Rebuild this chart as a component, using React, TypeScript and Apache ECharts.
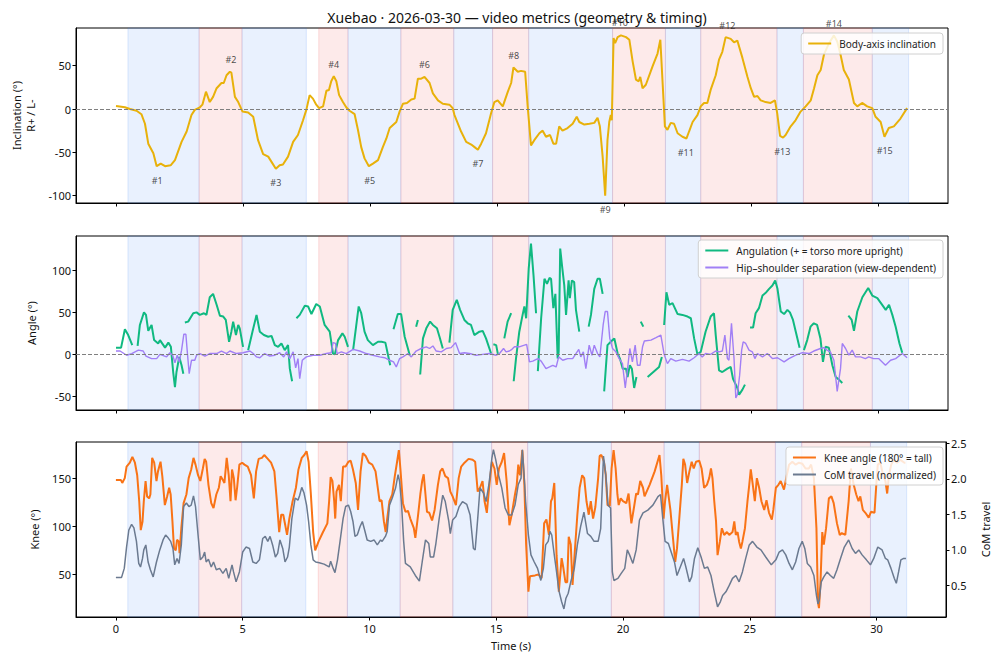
import React, { useEffect, useRef } from "react";
import * as echarts from "echarts";

const FONT = "'Noto Sans', 'Open Sans', sans-serif";

const titleText = "Xuebao · 2026-03-30 — video metrics (geometry & timing)";

const xTicks = [0, 5, 10, 15, 20, 25, 30];
const incTicks = [-100, -50, 0, 50];
const angTicks = [-50, 0, 50, 100];
const kneeTicks = [50, 100, 150];
const comTicks = [0.5, 1.0, 1.5, 2.0, 2.5];

const bandStart = [0.47, 3.27, 4.96, 7.98, 9.13, 11.21, 13.29, 14.82, 16.24, 19.54, 21.62, 23.01, 26.01, 27.05, 29.76];
const bandEnd = [3.27, 4.96, 7.49, 9.13, 11.21, 13.29, 14.82, 16.24, 19.54, 21.62, 23.01, 26.01, 27.05, 29.76, 31.19];
const bandSide = ["L", "R", "L", "R", "L", "R", "L", "R", "L", "R", "L", "R", "L", "R", "L"];

const annLabel = ["#1", "#2", "#3", "#4", "#5", "#6", "#7", "#8", "#9", "#10", "#11", "#12", "#13", "#14", "#15"];
const annT = [1.62, 4.52, 6.29, 8.57, 9.98, 12.14, 14.24, 15.65, 19.25, 19.83, 22.42, 24.06, 26.22, 28.25, 30.25];
const annV = [-66, 43, -69, 38, -66, 37, -47, 48, -100, 86, -34, 83, -33, 85, -32];

const inclination: [number, number][] = [
  [0, 3.5], [0.35, 2], [0.55, 0], [0.81, -2], [1.0, -6], [1.14, -17], [1.27, -40], [1.47, -51], [1.6, -66], [1.76, -63],
  [1.93, -66], [2.15, -65], [2.32, -59], [2.58, -38], [2.78, -26], [2.97, -7], [3.1, -1], [3.3, 2], [3.4, 5], [3.54, 20],
  [3.69, 8], [3.82, 14], [3.96, 24], [4.15, 30], [4.24, 30], [4.35, 39], [4.48, 43], [4.54, 42], [4.68, 14], [4.81, 8],
  [4.98, -3], [5.2, -4], [5.4, -9], [5.59, -36], [5.79, -52], [5.99, -55], [6.12, -61], [6.29, -69], [6.44, -65], [6.57, -64],
  [6.77, -55], [6.97, -38], [7.16, -30], [7.36, -13], [7.49, -1], [7.62, 16], [7.75, 12], [7.88, 5], [7.99, 1], [8.15, 3],
  [8.28, 21], [8.38, 22], [8.47, 32], [8.57, 38], [8.67, 32], [8.78, 16], [8.93, 8], [9.06, 2], [9.19, -2], [9.39, -6],
  [9.52, -24], [9.65, -44], [9.78, -57], [9.95, -66], [10.11, -63], [10.31, -59], [10.5, -44], [10.64, -34], [10.77, -22], [11.03, -15],
  [11.16, -3], [11.29, 6], [11.45, 7], [11.62, 11], [11.75, 12], [11.88, 35], [12.01, 35], [12.14, 37], [12.34, 30], [12.47, 18],
  [12.67, 10], [12.86, 6], [13.12, 5], [13.25, 1], [13.32, -7], [13.58, -26], [13.78, -38], [13.98, -41], [14.11, -44], [14.24, -47],
  [14.37, -40], [14.56, -28], [14.76, -5], [14.89, 8], [15.02, 10], [15.22, 3], [15.42, 20], [15.55, 30], [15.64, 48], [15.81, 43],
  [15.94, 44], [16.1, 43], [16.2, 3], [16.33, -42], [16.46, -36], [16.66, -28], [16.79, -25], [16.92, -32], [17.08, -30], [17.21, -40],
  [17.32, -40], [17.44, -20], [17.57, -25], [17.77, -22], [17.97, -17], [18.13, -9], [18.23, -15], [18.43, -18], [18.63, -17], [18.82, -16],
  [18.95, -10], [19.04, -20], [19.15, -55], [19.25, -100], [19.34, -36], [19.41, -15], [19.47, -7], [19.51, -13], [19.58, 82], [19.64, 76],
  [19.74, 83], [19.87, 85], [20.07, 83], [20.2, 80], [20.33, 55], [20.46, 34], [20.57, 32], [20.63, 37], [20.72, 24], [20.85, 28],
  [21.11, 49], [21.31, 64], [21.42, 80], [21.51, 30], [21.6, -20], [21.7, -24], [21.83, -16], [21.96, -17], [22.1, -28], [22.29, -32],
  [22.45, -34], [22.55, -26], [22.69, -15], [22.88, -7], [23.01, 3], [23.14, 7], [23.27, 7], [23.4, 22], [23.6, 39], [23.73, 57],
  [23.86, 66], [23.99, 83], [24.19, 81], [24.32, 77], [24.45, 79], [24.65, 59], [24.85, 37], [24.98, 24], [25.11, 14], [25.24, 15],
  [25.37, 10], [25.56, 8], [25.76, 7], [25.93, 10], [26.02, -5], [26.13, -31], [26.25, -33], [26.35, -30], [26.55, -20], [26.74, -13],
  [26.94, -3], [27.14, 3], [27.34, 10], [27.47, 24], [27.6, 39], [27.73, 45], [27.86, 63], [28.06, 76], [28.25, 85], [28.38, 78],
  [28.51, 63], [28.64, 45], [28.84, 34], [29.04, 7], [29.17, 3], [29.36, 7], [29.56, 3], [29.76, 1], [29.89, -9], [30.09, -15],
  [30.24, -32], [30.41, -22], [30.61, -20], [30.87, -11], [31.13, 1],
];

// null = gap in the tracked signal
const angulation: ([number, number] | null)[] = [
  [0, 8], [0.2, 8], [0.35, 30], [0.48, 23], [0.64, 11], null,
  [0.85, 10], [0.94, 35], [1.1, 50], [1.18, 47], [1.27, 28], [1.4, 35], [1.5, 17], [1.66, 13], [1.73, 17], [1.93, 8], [2.06, 14], [2.16, 9], [2.25, -21], [2.32, -39], [2.38, -21], [2.49, -3], [2.58, -13], [2.65, -23], null,
  [2.71, 38], [2.84, 39], [3.04, 49], [3.17, 50], [3.3, 47], [3.46, 49], [3.56, 47], [3.69, 68], [3.82, 72], [3.96, 59], [4.09, 46], [4.22, 45], [4.32, 41], [4.45, 15], [4.54, 27], [4.61, 39], [4.72, 23], [4.81, 35], [4.87, 31], [5.0, 9], null,
  [5.2, 5], [5.37, 27], [5.53, 47], [5.66, 27], [5.82, 23], [5.99, 21], [6.12, 22], [6.25, 11], [6.38, 9], [6.51, 13], [6.64, 5], [6.77, 11], [6.84, -17], [6.93, -32], null,
  [7.1, 43], [7.23, 47], [7.43, 58], [7.56, 57], [7.69, 48], [7.88, 60], [8.02, 57], [8.21, 35], [8.41, 27], [8.54, 1], [8.61, 0], [8.74, 17], [8.91, 25], [9.0, 21], [9.13, 9], null,
  [9.33, 5], [9.55, 57], [9.65, 49], [9.78, 27], [9.91, 17], [10.11, 11], [10.31, 15], [10.45, 15], [10.6, 14], [10.79, -13], null,
  [10.92, 30], [11.09, 48], [11.22, 48], [11.36, 21], [11.56, -1], null,
  [11.81, 33], [11.88, 41], null,
  [11.97, -24], [12.08, 19], [12.21, 31], [12.36, 39], [12.47, 35], [12.63, 31], [12.73, 21], [12.86, 7], null,
  [13.12, 14], [13.25, 53], [13.41, 65], [13.54, 53], [13.71, 41], [13.84, 37], [13.97, 35], [14.1, 23], [14.3, 27], [14.43, 28], [14.56, 19], [14.76, 1], null,
  [14.85, 12], [14.96, 11], [15.03, 0], null,
  [15.28, 19], [15.41, 39], [15.55, 49], null,
  [15.65, -32], [15.74, -5], [15.87, 27], [16.0, 47], [16.07, 57], [16.14, 43], [16.24, 102], [16.33, 132], [16.43, 94], [16.53, 49], null,
  [16.6, -20], [16.73, 43], [16.86, 90], [16.96, 84], [17.06, 91], [17.12, 90], [17.21, 55], [17.29, 72], [17.38, -5], [17.42, 3], [17.48, 126], [17.55, 106], [17.64, 82], [17.71, 47], [17.81, 88], [17.86, 67], [17.94, 88], [18.03, 86], [18.1, 53], [18.23, 27], null,
  [18.6, 33], [18.69, 47], [18.82, 78], [18.95, 90], [19.04, 90], [19.15, 72], null,
  [19.21, -44], [19.34, 11], [19.47, 15], [19.54, 17], [19.61, 19], [19.74, 1], [19.83, -5], [19.94, -17], [20.07, -17], [20.13, -27], [20.22, -13], [20.3, -17], [20.39, -40], [20.48, -27], null,
  [20.65, 39], [20.75, 33], null,
  [20.92, -27], [21.37, -15], [21.48, -3], null,
  [21.57, 35], [21.66, 74], [21.77, 59], [21.9, 61], [22.1, 48], [22.29, 47], [22.49, 45], [22.62, 43], [22.75, 19], [22.88, 0], [23.01, 3], [23.2, 27], [23.4, 45], [23.53, 49], [23.6, 23], [23.73, -19], [23.86, -21], [24.06, -17], [24.19, -15], [24.28, -29], [24.39, -36], [24.45, -40], [24.52, -48], [24.65, -42], [24.75, -36], null,
  [24.95, 32], [25.07, 32], [25.17, 49], [25.3, 55], [25.44, 70], [25.59, 74], [25.7, 78], [25.83, 82], [25.94, 88], [26.03, 78], [26.16, 51], [26.29, 48], [26.42, 53], [26.52, 50], [26.64, 41], [26.75, 27], [26.9, 8], null,
  [27.07, 5], [27.2, 17], [27.33, 33], [27.46, 37], [27.59, 35], [27.72, 19], [27.82, -9], [27.92, 9], [28.05, 8], [28.19, -13], [28.32, -27], [28.45, -30], [28.58, -34], null,
  [28.82, 46], [28.95, 41], [29.04, 28], [29.17, 51], [29.37, 68], [29.6, 79], [29.76, 70], [29.96, 67], [30.15, 59], [30.29, 53], [30.42, 59], [30.55, 47], [30.68, 33], [30.83, 13], [30.94, 2],
];

const hipShoulder: [number, number][] = [
  [0, 4], [0.16, 4], [0.42, -1], [0.62, 1], [0.88, 5], [1.07, 4], [1.18, -2], [1.4, -5], [1.6, -5], [1.73, 0], [1.99, -3], [2.12, 2], [2.23, -1], [2.32, -10], [2.41, -1], [2.49, -9], [2.58, 5], [2.67, 24], [2.75, 24], [2.8, 5],
  [2.88, -23], [2.97, -7], [3.1, -7], [3.17, -1], [3.3, 1], [3.5, -2], [3.69, 1], [3.96, 1], [4.15, 4], [4.35, 1], [4.48, 4], [4.74, 1], [5.0, 2], [5.27, 4], [5.4, 1], [5.53, -3], [5.66, -4], [5.85, 1], [6.05, -2], [6.25, -1],
  [6.44, 2], [6.6, -3], [6.71, 3], [6.84, -5], [6.97, 3], [7.07, -16], [7.16, -5], [7.23, -29], [7.33, -7], [7.49, -3], [7.75, -1], [8.02, -1], [8.28, 1], [8.47, 2], [8.54, 14], [8.64, 13], [8.7, 1], [8.87, 3], [9.06, 1], [9.33, 6],
  [9.59, 4], [9.85, 1], [10.11, -1], [10.37, -3], [10.57, -4], [10.77, -7], [10.92, -9], [11.03, -15], [11.16, -5], [11.29, -3], [11.49, 1], [11.62, -3], [11.81, 4], [12.01, 7], [12.21, 9], [12.34, 7], [12.47, 10], [12.6, 4], [12.8, 3], [13.0, 7],
  [13.19, 8], [13.36, 14], [13.52, 1], [13.71, 2], [13.91, 1], [14.17, -1], [14.43, 0], [14.69, 1], [14.96, -1], [15.09, 1], [15.25, 7], [15.35, 3], [15.48, 4], [15.58, 6], [15.68, 9], [15.87, 9], [16.07, 11], [16.16, 12], [16.27, -9], [16.4, -8],
  [16.6, -5], [16.73, -8], [16.92, -17], [17.06, -15], [17.19, -13], [17.32, -15], [17.42, -3], [17.58, -7], [17.77, -5], [17.97, -5], [18.1, 1], [18.21, 6], [18.29, -3], [18.39, 3], [18.49, -17], [18.62, 11], [18.73, -1], [18.82, 11], [18.95, 1], [19.04, -3],
  [19.17, 35], [19.25, 51], [19.34, 51], [19.43, 19], [19.54, 7], [19.67, 3], [19.8, -5], [19.93, -11], [20.04, -40], [20.13, -17], [20.22, 7], [20.32, -9], [20.43, 11], [20.52, -13], [20.62, -13], [20.72, 9], [20.79, 16], [21.05, 17], [21.25, 20], [21.44, 23],
  [21.57, 0], [21.7, -11], [21.83, -5], [22.03, -8], [22.29, -6], [22.55, -8], [22.75, -4], [22.94, 1], [23.07, -3], [23.2, 1], [23.4, 0], [23.6, 4], [23.73, 3], [23.86, 4], [23.96, 23], [24.06, -5], [24.12, -7], [24.22, 37], [24.32, -5], [24.39, -52],
  [24.45, -48], [24.54, -25], [24.62, 5], [24.68, 15], [24.78, 13], [24.91, 5], [25.04, 3], [25.14, -5], [25.24, 1], [25.44, -3], [25.63, 1], [25.83, -5], [26.03, -4], [26.29, -9], [26.48, -5], [26.75, -1], [27.01, 2], [27.27, 1], [27.46, 4], [27.72, 7],
  [27.85, 8], [27.98, 5], [28.11, 3], [28.25, -7], [28.38, -44], [28.51, -17], [28.58, 13], [28.71, 7], [28.84, -1], [28.97, 5], [29.1, -3], [29.3, -3], [29.49, -5], [29.62, -3], [29.81, -5], [30.01, -5], [30.28, -13], [30.48, -7], [30.68, -5], [30.94, 1],
  [31.13, -4],
];

const knee: [number, number][] = [
  [0, 148], [0.2, 148], [0.25, 145], [0.35, 150], [0.42, 162], [0.55, 166], [0.65, 172], [0.75, 166], [0.84, 153], [0.92, 126], [0.98, 96], [1.05, 105], [1.1, 126], [1.17, 147], [1.23, 131], [1.31, 129], [1.36, 133], [1.43, 171], [1.51, 166], [1.6, 147],
  [1.66, 157], [1.76, 167], [1.83, 152], [1.93, 122], [2.02, 131], [2.1, 140], [2.16, 133], [2.23, 105], [2.29, 77], [2.36, 75], [2.41, 86], [2.48, 84], [2.51, 72], [2.58, 98], [2.67, 124], [2.78, 133], [2.87, 150], [2.97, 159], [3.06, 171], [3.14, 164],
  [3.24, 153], [3.33, 147], [3.43, 160], [3.5, 170], [3.56, 167], [3.65, 143], [3.76, 124], [3.85, 119], [3.96, 133], [4.06, 140], [4.13, 152], [4.22, 148], [4.28, 145], [4.37, 171], [4.45, 153], [4.52, 126], [4.58, 159], [4.65, 150], [4.72, 127], [4.78, 140],
  [4.87, 164], [4.98, 166], [5.07, 164], [5.2, 162], [5.33, 153], [5.44, 129], [5.53, 157], [5.63, 170], [5.76, 171], [5.85, 174], [5.99, 170], [6.12, 166], [6.25, 157], [6.34, 129], [6.44, 94], [6.52, 112], [6.6, 112], [6.68, 101], [6.75, 91], [6.84, 108],
  [6.97, 126], [7.1, 140], [7.2, 159], [7.33, 171], [7.43, 174], [7.52, 178], [7.6, 167], [7.69, 133], [7.78, 94], [7.86, 75], [7.99, 84], [8.15, 93], [8.34, 103], [8.41, 126], [8.47, 151], [8.54, 147], [8.61, 126], [8.65, 108], [8.7, 136], [8.8, 143],
  [8.87, 126], [8.96, 162], [9.06, 162], [9.17, 167], [9.26, 168], [9.35, 159], [9.46, 145], [9.55, 117], [9.65, 157], [9.74, 176], [9.85, 173], [9.98, 166], [10.11, 164], [10.24, 157], [10.4, 126], [10.48, 127], [10.57, 105], [10.64, 94], [10.7, 108], [10.79, 126],
  [10.9, 133], [11.0, 152], [11.09, 167], [11.16, 179], [11.22, 160], [11.32, 124], [11.42, 115], [11.52, 116], [11.61, 108], [11.75, 98], [11.81, 88], [11.92, 112], [12.01, 134], [12.08, 147], [12.14, 154], [12.21, 133], [12.27, 115], [12.36, 114], [12.47, 106], [12.57, 117],
  [12.7, 143], [12.79, 157], [12.88, 160], [12.99, 152], [13.1, 150], [13.19, 136], [13.28, 131], [13.41, 122], [13.52, 150], [13.62, 162], [13.75, 166], [13.91, 170], [14.07, 169], [14.17, 167], [14.27, 136], [14.36, 140], [14.46, 147], [14.54, 126], [14.63, 114], [14.72, 140],
  [14.83, 167], [14.93, 160], [15.02, 143], [15.11, 160], [15.22, 167], [15.31, 176], [15.41, 147], [15.52, 101], [15.61, 112], [15.74, 133], [15.81, 143], [15.87, 164], [15.94, 153], [16.03, 179], [16.11, 143], [16.18, 81], [16.27, 32], [16.33, 48], [16.53, 49], [16.66, 50],
  [16.79, 46], [16.89, 103], [16.98, 107], [17.08, 91], [17.16, 126], [17.21, 129], [17.29, 145], [17.38, 70], [17.47, 32], [17.58, 67], [17.64, 58], [17.73, 42], [17.8, 42], [17.86, 89], [17.94, 81], [18.01, 39], [18.1, 74], [18.2, 112], [18.29, 140], [18.39, 153],
  [18.47, 150], [18.56, 126], [18.65, 112], [18.73, 126], [18.82, 108], [18.91, 120], [19.02, 150], [19.08, 173], [19.15, 174], [19.25, 167], [19.32, 153], [19.39, 122], [19.48, 121], [19.55, 160], [19.63, 179], [19.71, 160], [19.78, 133], [19.83, 122], [19.91, 129], [20.0, 126],
  [20.13, 124], [20.22, 134], [20.33, 103], [20.43, 119], [20.52, 134], [20.59, 133], [20.68, 147], [20.79, 140], [20.85, 131], [21.05, 143], [21.25, 157], [21.44, 174], [21.51, 153], [21.6, 108], [21.66, 126], [21.74, 143], [21.87, 117], [21.96, 91], [22.06, 63], [22.13, 77],
  [22.22, 108], [22.32, 143], [22.38, 170], [22.45, 164], [22.53, 145], [22.62, 157], [22.71, 167], [22.79, 160], [22.88, 167], [23.01, 168], [23.1, 160], [23.2, 140], [23.31, 143], [23.4, 150], [23.47, 160], [23.53, 150], [23.6, 126], [23.67, 105], [23.73, 70], [23.82, 84],
  [23.9, 98], [23.99, 91], [24.1, 94], [24.19, 91], [24.32, 94], [24.39, 105], [24.45, 91], [24.52, 94], [24.58, 84], [24.65, 77], [24.71, 84], [24.81, 98], [24.91, 126], [24.98, 143], [25.04, 159], [25.12, 143], [25.2, 126], [25.28, 150], [25.37, 140], [25.46, 126],
  [25.57, 117], [25.66, 127], [25.76, 114], [25.87, 107], [25.93, 117], [26.03, 140], [26.13, 143], [26.22, 147], [26.35, 138], [26.46, 153], [26.55, 164], [26.68, 167], [26.81, 164], [26.94, 166], [27.07, 165], [27.2, 160], [27.33, 160], [27.42, 164], [27.53, 150], [27.63, 98],
  [27.69, 21], [27.73, 15], [27.79, 42], [27.86, 94], [27.92, 81], [28.01, 98], [28.12, 129], [28.22, 131], [28.31, 124], [28.44, 103], [28.55, 91], [28.63, 93], [28.77, 91], [28.9, 126], [28.99, 160], [29.1, 143], [29.2, 133], [29.29, 126], [29.36, 131], [29.46, 117],
  [29.56, 114], [29.69, 109], [29.78, 115], [29.92, 114], [30.0, 147], [30.05, 164], [30.15, 166], [30.26, 153], [30.35, 147], [30.42, 134], [30.49, 153], [30.58, 164], [30.68, 169], [30.81, 166], [30.94, 169], [31.1, 166], [31.14, 166],
];

const comTravel: [number, number][] = [
  [0, 0.61], [0.22, 0.61], [0.33, 0.74], [0.42, 1.04], [0.51, 1.28], [0.62, 1.36], [0.71, 1.31], [0.81, 1.12], [0.9, 0.81], [0.97, 0.76], [1.05, 0.88], [1.1, 1.0], [1.18, 1.07], [1.27, 0.83], [1.36, 0.72], [1.47, 0.62], [1.6, 0.83], [1.73, 1.0], [1.86, 1.14], [1.96, 1.21],
  [2.06, 1.17], [2.16, 1.12], [2.25, 1.02], [2.32, 0.79], [2.41, 0.88], [2.49, 0.81], [2.58, 1.07], [2.67, 1.61], [2.78, 1.66], [2.88, 1.61], [2.97, 1.63], [3.06, 1.76], [3.14, 1.61], [3.24, 1.21], [3.33, 0.86], [3.43, 0.9], [3.5, 0.97], [3.56, 0.83], [3.65, 0.87], [3.76, 0.76],
  [3.85, 0.83], [3.96, 0.72], [4.09, 0.74], [4.22, 0.67], [4.35, 0.74], [4.45, 0.6], [4.58, 0.79], [4.64, 0.69], [4.74, 0.55], [4.87, 0.69], [5.0, 0.97], [5.13, 1.04], [5.27, 1.02], [5.4, 0.83], [5.53, 0.81], [5.66, 0.86], [5.79, 1.16], [5.89, 1.19], [5.99, 1.12], [6.08, 1.19],
  [6.18, 1.07], [6.29, 0.9], [6.38, 0.95], [6.47, 1.14], [6.58, 1.02], [6.67, 0.83], [6.77, 0.9], [6.84, 1.04], [6.94, 1.44], [7.07, 1.73], [7.18, 1.7], [7.25, 1.77], [7.33, 1.88], [7.42, 1.8], [7.52, 1.63], [7.6, 1.4], [7.69, 1.07], [7.78, 0.86], [7.88, 0.83], [8.02, 0.82],
  [8.21, 0.8], [8.41, 0.76], [8.47, 0.84], [8.57, 0.74], [8.64, 0.68], [8.74, 0.86], [8.84, 1.12], [8.96, 1.44], [9.06, 1.61], [9.17, 1.63], [9.26, 1.54], [9.35, 1.4], [9.43, 1.19], [9.52, 1.21], [9.63, 1.33], [9.72, 1.4], [9.81, 1.28], [9.91, 1.14], [10.05, 1.12], [10.18, 1.14],
  [10.31, 1.07], [10.44, 1.14], [10.5, 1.12], [10.63, 1.19], [10.7, 1.26], [10.79, 1.63], [10.9, 1.73], [11.03, 1.87], [11.13, 2.06], [11.19, 1.96], [11.26, 1.68], [11.35, 1.12], [11.42, 0.81], [11.61, 0.76], [11.81, 0.64], [11.97, 0.56], [12.08, 0.83], [12.21, 1.14], [12.34, 1.09], [12.4, 0.9],
  [12.53, 0.9], [12.62, 1.09], [12.75, 1.44], [12.89, 1.77], [12.99, 1.68], [13.13, 1.4], [13.19, 1.23], [13.28, 1.42], [13.41, 1.47], [13.54, 1.61], [13.67, 1.68], [13.84, 1.64], [13.97, 1.49], [14.1, 1.02], [14.17, 1.0], [14.27, 1.44], [14.36, 1.87], [14.5, 1.8], [14.6, 1.68], [14.72, 1.94],
  [14.83, 2.29], [14.89, 2.41], [14.98, 2.27], [15.09, 2.06], [15.22, 1.87], [15.35, 1.59], [15.48, 1.49], [15.61, 1.49], [15.74, 1.63], [15.87, 1.92], [15.98, 2.01], [16.03, 2.41], [16.1, 2.06], [16.16, 1.68], [16.27, 1.21], [16.37, 0.93], [16.5, 0.83], [16.63, 0.74], [16.76, 0.57], [16.86, 0.74],
  [16.95, 1.07], [17.05, 1.12], [17.12, 1.26], [17.19, 1.21], [17.29, 0.93], [17.38, 0.69], [17.47, 0.43], [17.58, 0.27], [17.67, 0.17], [17.75, 0.32], [17.84, 0.39], [17.94, 0.55], [18.08, 0.74], [18.2, 1.07], [18.33, 1.33], [18.46, 1.53], [18.6, 1.23], [18.73, 1.19], [18.86, 1.12], [19.02, 1.12],
  [19.12, 1.3], [19.23, 2.32], [19.32, 2.06], [19.41, 1.63], [19.51, 1.59], [19.58, 0.69], [19.64, 0.57], [19.8, 0.6], [19.93, 0.67], [20.07, 0.74], [20.17, 1.0], [20.26, 0.93], [20.39, 0.81], [20.52, 1.0], [20.65, 1.42], [20.79, 1.52], [20.98, 1.56], [21.18, 1.63], [21.38, 1.75], [21.48, 1.78],
  [21.57, 1.44], [21.66, 1.12], [21.79, 1.09], [21.92, 0.95], [22.03, 0.83], [22.13, 0.64], [22.26, 0.76], [22.39, 0.88], [22.48, 0.76], [22.62, 0.55], [22.71, 0.62], [22.82, 0.88], [22.95, 1.03], [23.08, 0.9], [23.21, 0.74], [23.34, 0.76], [23.47, 0.64], [23.6, 0.41], [23.73, 0.2], [23.84, 0.27],
  [23.93, 0.36], [24.06, 0.41], [24.19, 0.5], [24.32, 0.6], [24.45, 0.64], [24.58, 0.55], [24.71, 0.69], [24.84, 0.88], [24.98, 1.07], [25.11, 1.12], [25.28, 1.04], [25.44, 1.0], [25.63, 0.9], [25.85, 0.79], [26.03, 0.86], [26.16, 0.97], [26.29, 1.0], [26.42, 0.93], [26.55, 0.81], [26.68, 0.72],
  [26.81, 0.83], [26.94, 1.02], [27.07, 1.12], [27.17, 1.02], [27.27, 0.81], [27.4, 0.76], [27.53, 0.64], [27.63, 0.36], [27.69, 0.24], [27.74, 0.29], [27.82, 0.55], [27.92, 0.62], [28.05, 0.69], [28.18, 0.64], [28.31, 0.6], [28.44, 0.72], [28.58, 0.88], [28.73, 1.04], [28.9, 1.14], [29.04, 1.02],
  [29.17, 0.95], [29.3, 1.0], [29.43, 0.93], [29.6, 0.86], [29.76, 0.79], [29.89, 0.88], [30.05, 1.04], [30.22, 1.0], [30.35, 0.88], [30.44, 0.86], [30.57, 0.74], [30.7, 0.6], [30.78, 0.53], [30.87, 0.69], [30.96, 0.86], [31.07, 0.88], [31.16, 0.88],
];

const names = {
  inc: "Body-axis inclination",
  ang: "Angulation (+ = torso more upright)",
  hip: "Hip–shoulder separation (view-dependent)",
  knee: "Knee angle (180° = tall)",
  com: "CoM travel (normalized)",
};

const COLORS = {
  inc: "#e8b10a",
  ang: "#10b981",
  hip: "#a17ff5",
  knee: "#f97316",
  com: "#6b7a90",
  blue: "rgba(59,130,246,0.11)",
  red: "rgba(239,68,68,0.11)",
  blueEdge: "rgba(59,130,246,0.16)",
  redEdge: "rgba(239,68,68,0.16)",
};

const X_MIN = -1.574;
const X_MAX = 32.74;

function bandAreas() {
  return bandStart.map((s, i) => [
    {
      xAxis: s,
      itemStyle: {
        color: bandSide[i] === "L" ? COLORS.blue : COLORS.red,
        borderColor: bandSide[i] === "L" ? COLORS.blueEdge : COLORS.redEdge,
        borderWidth: 1,
      },
    },
    { xAxis: bandEnd[i] },
  ]);
}

function zeroLine() {
  return {
    silent: true,
    symbol: ["none", "none"],
    label: { show: false },
    lineStyle: { type: [4, 2], color: "#7f7f7f", width: 1 },
    data: [{ yAxis: 0 }],
  };
}

function withGaps(rows: ([number, number] | null)[]) {
  const out: any[] = [];
  let last = 0;
  rows.forEach((r) => {
    if (r === null) out.push([last, "-"]);
    else {
      out.push(r);
      last = r[0];
    }
  });
  return out;
}

function xAxis(gridIndex: number, showLabels: boolean) {
  return {
    type: "value",
    gridIndex,
    min: X_MIN,
    max: X_MAX,
    splitLine: { show: false },
    axisLine: { show: true, onZero: false, lineStyle: { color: "#000", width: 1 } },
    axisTick: { show: true, length: 3.5, customValues: xTicks, lineStyle: { color: "#000" } },
    axisLabel: {
      show: showLabels,
      customValues: xTicks,
      fontSize: 11,
      color: "#111",
      fontFamily: FONT,
      margin: 6,
    },
    name: showLabels ? "Time (s)" : "",
    nameLocation: "middle",
    nameGap: 23,
    nameTextStyle: { fontSize: 11, color: "#111", fontFamily: FONT },
  };
}

function yAxis(gridIndex: number, min: number, max: number, ticks: number[], name: string, nameGap: number, opts: any = {}) {
  return {
    type: "value",
    gridIndex,
    min,
    max,
    position: opts.position || "left",
    splitLine: { show: false },
    axisLine: { show: true, onZero: false, lineStyle: { color: "#000", width: 1 } },
    axisTick: { show: true, length: 3.5, customValues: ticks, lineStyle: { color: "#000" } },
    axisLabel: {
      customValues: ticks,
      fontSize: 11,
      color: "#111",
      fontFamily: FONT,
      margin: 5,
      formatter: opts.formatter,
    },
    name,
    nameLocation: "middle",
    nameRotate: 90,
    nameGap,
    nameTextStyle: { fontSize: 11, color: "#111", fontFamily: FONT, lineHeight: 14 },
  };
}

const legendBase = {
  right: 57,
  orient: "vertical",
  icon: "rect",
  itemWidth: 23,
  itemHeight: 2,
  itemGap: 4,
  padding: [4, 7, 4, 7],
  backgroundColor: "rgba(255,255,255,0.82)",
  borderColor: "#d0d0d0",
  borderWidth: 1,
  borderRadius: 3,
  selectedMode: false,
  textStyle: { fontSize: 10, color: "#222", fontFamily: FONT, padding: [0, 0, 0, 3], lineHeight: 13 },
};

export default function App() {
  const ref = useRef<HTMLDivElement>(null);

  useEffect(() => {
    if (!ref.current) return;
    const chart = echarts.init(ref.current, undefined, { renderer: "svg" });

    const gridBase = { left: 76, right: 52, show: true, borderColor: "#000", borderWidth: 1, backgroundColor: "transparent" };

    const option: any = {
      animation: false,
      backgroundColor: "#fff",
      title: {
        text: titleText,
        left: 512,
        textAlign: "center",
        top: 5,
        textStyle: { fontSize: 14, fontWeight: "normal", color: "#111", fontFamily: FONT },
      },
      grid: [
        { ...gridBase, top: 28, height: 175 },
        { ...gridBase, top: 236, height: 174 },
        { ...gridBase, top: 442, height: 175 },
      ],
      xAxis: [xAxis(0, false), xAxis(1, false), xAxis(2, true)],
      yAxis: [
        yAxis(0, -108.5, 93.5, incTicks, "Inclination (°)\nR+ / L-", 38),
        yAxis(1, -66.2, 140.9, angTicks, "Angle (°)", 38),
        yAxis(2, 5.8, 187.5, kneeTicks, "Knee (°)", 34),
        {
          ...yAxis(2, 0.056, 2.518, comTicks, "CoM travel", 32, {
            position: "right",
            formatter: (v: number) => v.toFixed(1),
          }),
          nameRotate: 90,
        },
      ],
      legend: [
        { ...legendBase, top: 33, data: [names.inc] },
        { ...legendBase, top: 240, data: [names.ang, names.hip] },
        { ...legendBase, top: 447, data: [names.knee, names.com] },
      ],
      series: [
        {
          name: names.inc,
          type: "line",
          xAxisIndex: 0,
          yAxisIndex: 0,
          data: inclination,
          symbol: "none",
          lineStyle: { color: COLORS.inc, width: 2 },
          itemStyle: { color: COLORS.inc },
          markArea: { silent: true, data: bandAreas() },
          markLine: zeroLine(),
        },
        {
          name: "annotations",
          type: "scatter",
          xAxisIndex: 0,
          yAxisIndex: 0,
          symbolSize: 1,
          itemStyle: { color: "rgba(0,0,0,0)" },
          silent: true,
          data: annLabel.map((n, i) => ({
            name: n,
            value: [annT[i], annV[i]],
            label: {
              show: true,
              formatter: n,
              position: annV[i] > 0 ? "top" : "bottom",
              distance: annV[i] > 0 ? 7 : 9,
              fontSize: 9,
              color: "#222",
              fontFamily: FONT,
            },
          })),
        },
        {
          name: names.ang,
          type: "line",
          xAxisIndex: 1,
          yAxisIndex: 1,
          data: withGaps(angulation),
          connectNulls: false,
          symbol: "none",
          lineStyle: { color: COLORS.ang, width: 2 },
          itemStyle: { color: COLORS.ang },
          markArea: { silent: true, data: bandAreas() },
          markLine: zeroLine(),
        },
        {
          name: names.hip,
          type: "line",
          xAxisIndex: 1,
          yAxisIndex: 1,
          data: hipShoulder,
          symbol: "none",
          lineStyle: { color: COLORS.hip, width: 1.4 },
          itemStyle: { color: COLORS.hip },
        },
        {
          name: names.knee,
          type: "line",
          xAxisIndex: 2,
          yAxisIndex: 2,
          data: knee,
          symbol: "none",
          lineStyle: { color: COLORS.knee, width: 2 },
          itemStyle: { color: COLORS.knee },
          markArea: { silent: true, data: bandAreas() },
        },
        {
          name: names.com,
          type: "line",
          xAxisIndex: 2,
          yAxisIndex: 3,
          data: comTravel,
          symbol: "none",
          lineStyle: { color: COLORS.com, width: 1.5 },
          itemStyle: { color: COLORS.com },
        },
      ],
    };

    chart.setOption(option);
    return () => chart.dispose();
  }, []);

  return (
    <div
      ref={ref}
      style={{ position: "absolute", left: 0, top: 0, width: 1000, height: 664, background: "#fff" }}
    />
  );
}
